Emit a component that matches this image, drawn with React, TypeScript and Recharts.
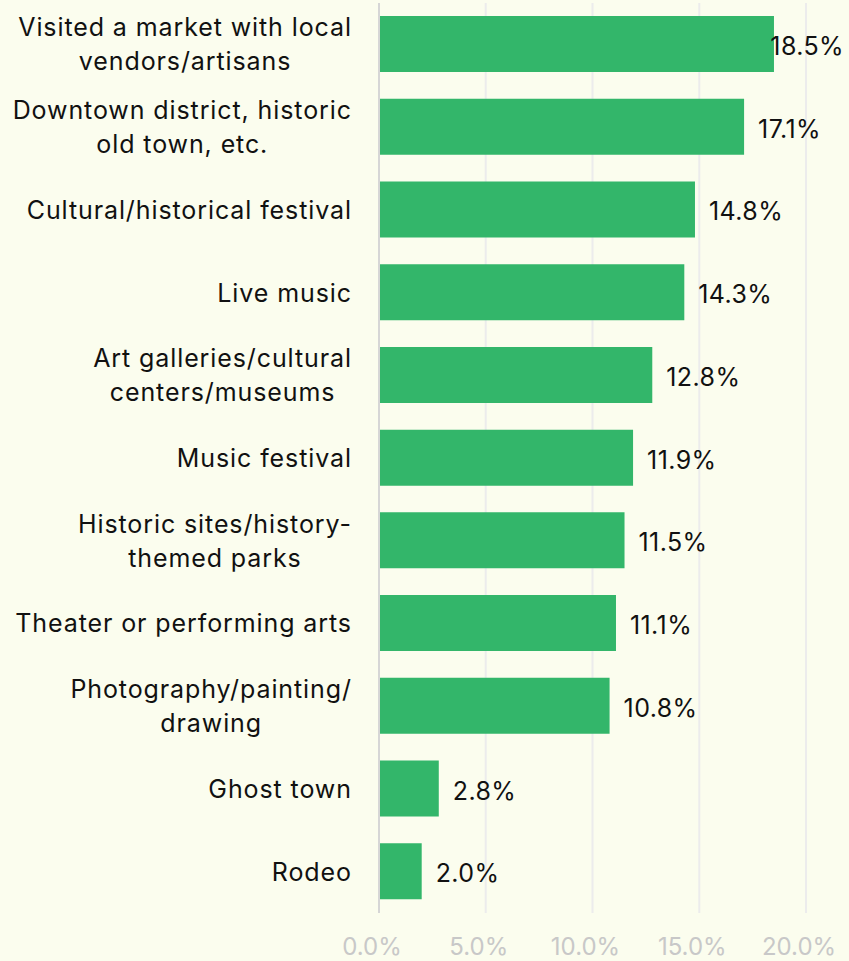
import { Bar, BarChart, CartesianGrid, LabelList, XAxis, YAxis } from "recharts";

const categories = [
  "Visited a market with local\nvendors/artisans",
  "Downtown district, historic\nold town, etc.",
  "Cultural/historical festival",
  "Live music",
  "Art galleries/cultural\ncenters/museums",
  "Music festival",
  "Historic sites/history-\nthemed parks",
  "Theater or performing arts",
  "Photography/painting/\ndrawing",
  "Ghost town",
  "Rodeo",
];

const shares = [18.5, 17.1, 14.8, 14.3, 12.8, 11.9, 11.5, 11.1, 10.8, 2.8, 2.0];

const xTicks = [0, 5, 10, 15, 20];

const data = categories.map((name, i) => ({ name, value: shares[i] }));

const WIDTH = 849;
const HEIGHT = 961;
const FONT = "Inter, 'Liberation Sans', sans-serif";
const BG = "#fbfdee";
const GREEN = "#33b66a";
const TRACK = 0.9;

let ctx: CanvasRenderingContext2D | null = null;
function measure(text: string, size: number, spacing = 0) {
  if (!ctx) ctx = document.createElement("canvas").getContext("2d");
  if (!ctx) return text.length * size * 0.5;
  ctx.font = `${size}px ${FONT}`;
  return ctx.measureText(text).width + text.length * spacing;
}

// two-line names are centred on their widest line, single lines sit flush right
function CategoryTick({ x, y, payload }: any) {
  const lines = String(payload.value).split("\n");
  const size = 25;
  const lineH = 34;
  const right = x - 20 + TRACK;
  const widest = Math.max(...lines.map((l) => measure(l, size, TRACK)));
  const multi = lines.length > 1;
  const top = y - ((lines.length - 1) * lineH) / 2;
  const tx = multi ? right - widest / 2 : right;
  return (
    <text
      x={tx}
      y={top}
      textAnchor={multi ? "middle" : "end"}
      dominantBaseline="central"
      fontFamily={FONT}
      fontSize={size}
      letterSpacing={TRACK}
      fill="#111"
    >
      {lines.map((line, i) => (
        <tspan key={i} x={tx} y={top + i * lineH}>
          {line}
        </tspan>
      ))}
    </text>
  );
}

function PercentTick({ x, y, payload }: any) {
  return (
    <text
      x={x - 7}
      y={y + 25}
      textAnchor="middle"
      dominantBaseline="central"
      fontFamily={FONT}
      fontSize={24}
      fill="#c8c8c8"
    >
      {`${Number(payload.value).toFixed(1)}%`}
    </text>
  );
}

// value sits right of the bar, pulled back inside the chart when it would overflow
function ValueLabel({ x, y, width, height, value }: any) {
  const text = `${Number(value).toFixed(1)}%`;
  const size = 25;
  const w = measure(text, size, 0.4);
  const left = Math.min(x + width + 14, WIDTH - 5 - w);
  return (
    <text
      x={left}
      y={y + height / 2 + 2}
      dominantBaseline="central"
      fontFamily={FONT}
      fontSize={size}
      letterSpacing={0.4}
      fill="#111"
    >
      {text}
    </text>
  );
}

export default function App() {
  return (
    <div
      style={{
        position: "fixed",
        left: 0,
        top: 0,
        width: WIDTH,
        height: HEIGHT,
        background: BG,
      }}
    >
      <BarChart
        width={WIDTH}
        height={HEIGHT}
        data={data}
        layout="vertical"
        margin={{ top: 3, right: 43, bottom: 0, left: 0 }}
      >
        <CartesianGrid horizontal={false} stroke="#ececec" strokeWidth={2} />
        <XAxis
          type="number"
          domain={[0, 20]}
          ticks={xTicks}
          height={48}
          axisLine={false}
          tickLine={false}
          tick={<PercentTick />}
        />
        <YAxis
          type="category"
          dataKey="name"
          width={379}
          axisLine={{ stroke: "#d6d6d6", strokeWidth: 2 }}
          tickLine={false}
          tick={<CategoryTick />}
          interval={0}
        />
        <Bar dataKey="value" fill={GREEN} barSize={56} isAnimationActive={false}>
          <LabelList dataKey="value" content={<ValueLabel />} />
        </Bar>
      </BarChart>
    </div>
  );
}
